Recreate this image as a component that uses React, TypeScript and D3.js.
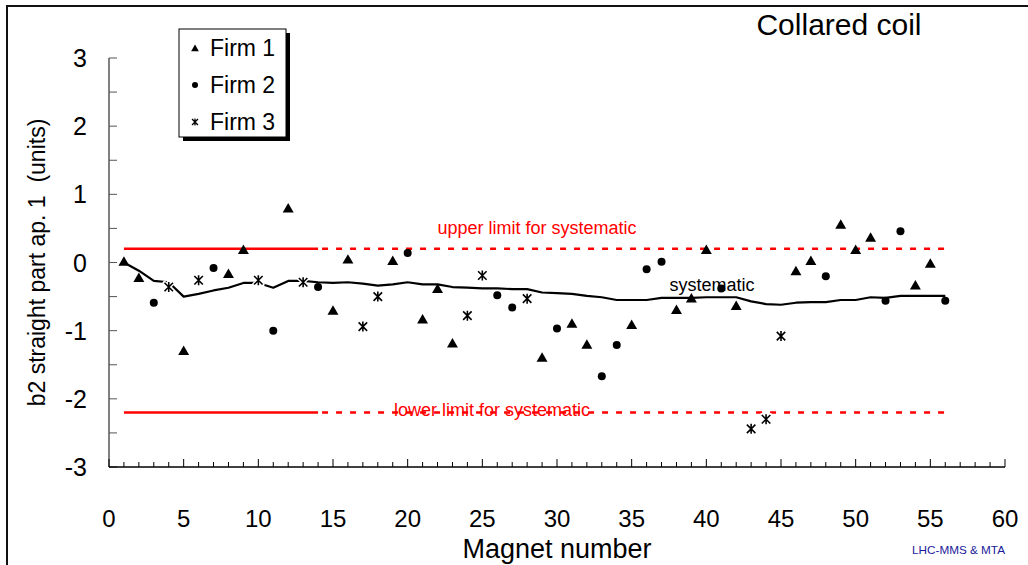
import React from "react";
import * as d3 from "d3";

// Collared-coil b2 measurements per magnet, split by manufacturer
const firm1Magnets = [1, 2, 5, 8, 9, 12, 15, 16, 19, 21, 22, 23, 29, 31, 32, 35, 38, 39, 40, 42, 46, 47, 49, 50, 51, 54, 55];
const firm1Values = [0.0, -0.24, -1.31, -0.18, 0.17, 0.78, -0.72, 0.03, 0.01, -0.85, -0.4, -1.2, -1.41, -0.91, -1.22, -0.93, -0.71, -0.54, 0.17, -0.65, -0.14, 0.01, 0.54, 0.17, 0.35, -0.35, -0.03];

const firm2Magnets = [3, 7, 11, 14, 20, 26, 27, 30, 33, 34, 36, 37, 41, 48, 52, 53, 56];
const firm2Values = [-0.59, -0.08, -1.0, -0.36, 0.14, -0.48, -0.66, -0.97, -1.67, -1.21, -0.1, 0.01, -0.38, -0.2, -0.56, 0.46, -0.56];

const firm3Magnets = [4, 6, 10, 13, 17, 18, 24, 25, 28, 43, 44, 45];
const firm3Values = [-0.36, -0.26, -0.26, -0.29, -0.94, -0.5, -0.78, -0.19, -0.53, -2.44, -2.3, -1.08];

// Running systematic value, magnets 1..56
const systematicValues = [
  0.0, -0.12, -0.27, -0.29, -0.5, -0.46, -0.41, -0.37, -0.3, -0.3,
  -0.37, -0.27, -0.27, -0.29, -0.3, -0.29, -0.31, -0.34, -0.32, -0.29,
  -0.32, -0.32, -0.36, -0.37, -0.38, -0.38, -0.39, -0.39, -0.44, -0.45,
  -0.46, -0.49, -0.51, -0.55, -0.55, -0.55, -0.52, -0.52, -0.52, -0.51,
  -0.51, -0.51, -0.57, -0.61, -0.62, -0.59, -0.58, -0.58, -0.55, -0.55,
  -0.51, -0.52, -0.49, -0.49, -0.49, -0.49,
];

// Limits for the systematic: solid over the first magnets, dashed afterwards
const upperLimit = 0.2;
const lowerLimit = -2.2;
const limitSolidRange = [1, 14];
const limitDashedRange = [14, 56];

const xTicks = d3.range(0, 61, 5);
const xMinorTicks = d3.range(0, 61, 1);
const yTicks = [-3, -2, -1, 0, 1, 2, 3];
const yMinorTicks = d3.range(-3, 3.01, 0.5);

const legendItems = ["Firm 1", "Firm 2", "Firm 3"];

const FONT = "Liberation Sans, Arial, Helvetica, sans-serif";

function starPath(s: number) {
  // six-armed asterisk: an X with a vertical bar
  const h = s / 2;
  const d = h * 0.85;
  return `M${-d},${-d}L${d},${d}M${-d},${d}L${d},${-d}M0,${-h}L0,${h}`;
}

export default function App() {
  const x = d3.scaleLinear().domain([0, 60]).range([109, 1005]);
  const y = d3.scaleLinear().domain([-3, 3]).range([467, 58]);

  const tri = d3.symbol().type(d3.symbolTriangle).size(52)()!;
  const triSmall = d3.symbol().type(d3.symbolTriangle).size(26)()!;

  const sysLine = d3
    .line<number>()
    .x((_, i) => x(i + 1))
    .y((v) => y(v));

  const firm1 = firm1Magnets.map((m, i) => [m, firm1Values[i]]);
  const firm2 = firm2Magnets.map((m, i) => [m, firm2Values[i]]);
  const firm3 = firm3Magnets.map((m, i) => [m, firm3Values[i]]);

  const legendX = 179;
  const legendY = 29;
  const legendW = 107;
  const legendH = 108;

  return (
    <svg
      width={1028}
      height={565}
      style={{ position: "absolute", left: 0, top: 0, background: "#fff" }}
      fontFamily={FONT}
    >
      {/* chart frame */}
      <path d="M7,565V6H1028" fill="none" stroke="#111" strokeWidth={2} />

      {/* title */}
      <text x={839} y={35} fontSize={30} textAnchor="middle" fill="#000">
        Collared coil
      </text>

      {/* y axis */}
      <line x1={x(0)} x2={x(0)} y1={y(3)} y2={y(-3)} stroke="#808080" strokeWidth={2} />
      {yMinorTicks.map((t) => (
        <line key={"ym" + t} x1={x(0)} x2={x(0) + 8} y1={y(t)} y2={y(t)} stroke="#555" strokeWidth={1} />
      ))}
      {yTicks.map((t) => (
        <text key={"yl" + t} x={87} y={y(t)} dy="0.36em" fontSize={25} textAnchor="end" fill="#000">
          {t}
        </text>
      ))}
      <text
        transform={`translate(37,${(y(3) + y(-3)) / 2}) rotate(-90)`}
        fontSize={23}
        textAnchor="middle"
        dy="0.35em"
        fill="#000"
        style={{ whiteSpace: "pre" }}
      >
        {"b2 straight part ap. 1  (units)"}
      </text>

      {/* x axis */}
      <line x1={x(0)} x2={x(60)} y1={y(-3)} y2={y(-3)} stroke="#000" strokeWidth={1.5} />
      {xMinorTicks.map((t) => (
        <line
          key={"xm" + t}
          x1={x(t)}
          x2={x(t)}
          y1={y(-3)}
          y2={y(-3) - (t % 5 === 0 ? 8 : 5)}
          stroke="#000"
          strokeWidth={1}
        />
      ))}
      {xTicks.map((t) => (
        <text key={"xl" + t} x={x(t)} y={527} fontSize={24} textAnchor="middle" fill="#000">
          {t}
        </text>
      ))}
      <text x={557} y={558} fontSize={27} textAnchor="middle" fill="#000">
        Magnet number
      </text>
      <text x={1005} y={554} fontSize={11} textAnchor="end" fill="#1a1a9a" textLength={93} lengthAdjust="spacingAndGlyphs">
        LHC-MMS &amp; MTA
      </text>

      {/* limit labels */}
      <text x={537} y={234} fontSize={18} textAnchor="middle" fill="#ff0000">
        upper limit for systematic
      </text>
      <text x={492} y={416} fontSize={18} textAnchor="middle" fill="#ff0000">
        lower limit for systematic
      </text>

      {/* limit lines */}
      {[upperLimit, lowerLimit].map((v) => (
        <g key={"lim" + v}>
          <line
            x1={x(limitSolidRange[0])}
            x2={x(limitSolidRange[1])}
            y1={y(v)}
            y2={y(v)}
            stroke="#ff0000"
            strokeWidth={2.5}
          />
          <line
            x1={x(limitDashedRange[0])}
            x2={x(limitDashedRange[1])}
            y1={y(v)}
            y2={y(v)}
            stroke="#ff0000"
            strokeWidth={2.5}
            strokeDasharray="6 8"
            strokeDashoffset={-4}
          />
        </g>
      ))}

      {/* systematic curve */}
      <text x={712} y={291} fontSize={18} textAnchor="middle" fill="#000">
        systematic
      </text>
      <path d={sysLine(systematicValues) || ""} fill="none" stroke="#000" strokeWidth={2.2} strokeLinejoin="round" />

      {/* measurements */}
      {firm1.map(([m, v]) => (
        <path key={"f1" + m} d={tri} transform={`translate(${x(m)},${y(v)})`} fill="#000" />
      ))}
      {firm2.map(([m, v]) => (
        <circle key={"f2" + m} cx={x(m)} cy={y(v)} r={4} fill="#000" />
      ))}
      {firm3.map(([m, v]) => (
        <g key={"f3" + m} transform={`translate(${x(m)},${y(v)})`}>
          <path d={starPath(10)} fill="none" stroke="#fff" strokeWidth={4} strokeLinecap="round" />
          <path d={starPath(10)} fill="none" stroke="#000" strokeWidth={1.6} />
        </g>
      ))}

      {/* legend */}
      <rect x={legendX + 4} y={legendY + 4} width={legendW} height={legendH} fill="#000" />
      <rect x={legendX} y={legendY} width={legendW} height={legendH} fill="#fff" stroke="#000" strokeWidth={1} />
      {legendItems.map((label, i) => {
        const cy = 48 + i * 37;
        return (
          <g key={label}>
            {i === 0 && <path d={triSmall} transform={`translate(195,${cy + 1})`} fill="#000" />}
            {i === 1 && <circle cx={195} cy={cy} r={3} fill="#000" />}
            {i === 2 && (
              <path d={starPath(7)} transform={`translate(195,${cy})`} fill="none" stroke="#000" strokeWidth={1.3} />
            )}
            <text x={210} y={cy} dy="0.36em" fontSize={23} fill="#000">
              {label}
            </text>
          </g>
        );
      })}
    </svg>
  );
}
